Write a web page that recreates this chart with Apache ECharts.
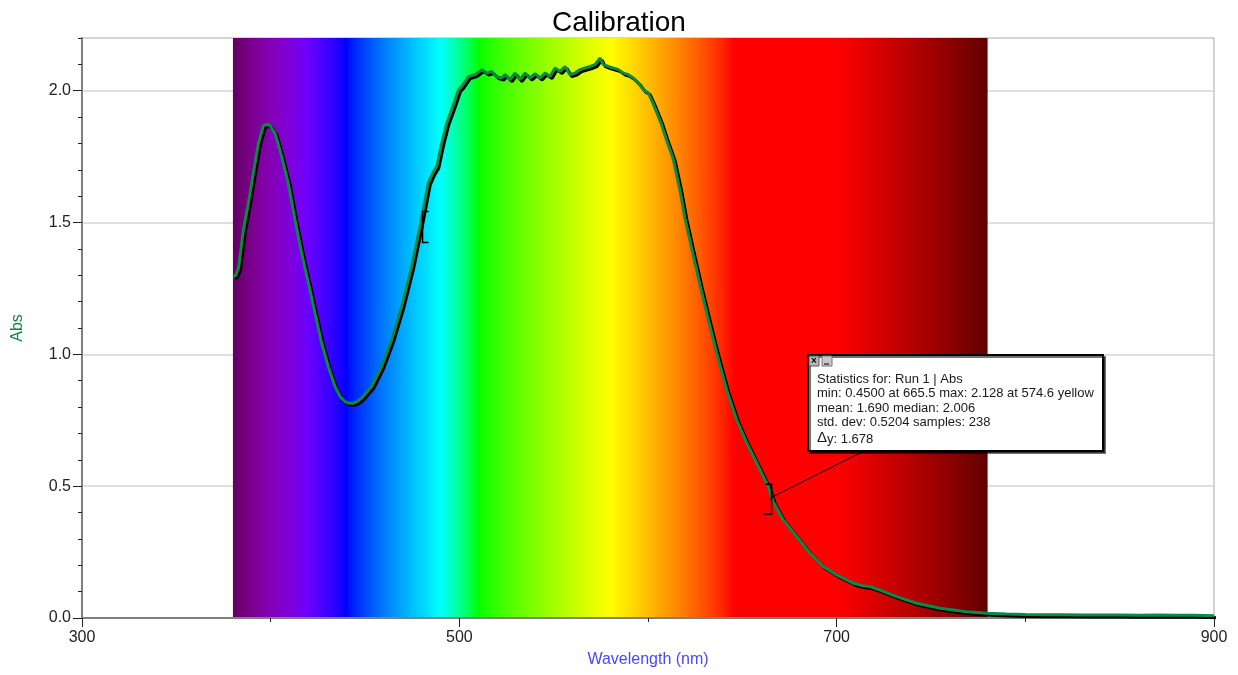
<!DOCTYPE html>
<html>
<head>
<meta charset="utf-8">
<title>Calibration</title>
<script src="https://cdn.jsdelivr.net/npm/echarts@6/dist/echarts.min.js"></script>
<style>
  html, body { margin: 0; padding: 0; background: #fff; }
  #chart { width: 1238px; height: 675px; }
</style>
</head>
<body>
<div id="chart"></div>
<script>
// absorbance spectrum (nm, Abs)
const wavelength = [
  380.2, 381.5, 383.0, 385.5, 388.2, 390.8, 393.5, 396.1, 398.0, 399.6,
  402.3, 405.8, 409.3, 412.9, 416.4, 420.0, 423.5, 427.0, 430.5, 434.1,
  437.0, 439.4, 441.5, 443.8, 446.0, 448.2, 453.5, 458.8, 464.1, 469.4,
  474.7, 479.1, 483.5, 486.0, 488.0, 490.6, 493.3, 497.0, 499.5, 501.2,
  504.8, 508.3, 511.9, 514.5, 517.1, 519.8, 522.4, 524.2, 526.9, 529.5,
  532.1, 534.8, 537.4, 540.1, 542.8, 545.4, 548.1, 550.7, 553.4, 556.0,
  558.6, 561.3, 563.9, 566.6, 569.3, 571.9, 574.6, 576.3, 579.0, 581.6,
  584.3, 586.9, 589.6, 592.2, 594.9, 597.5, 600.2, 602.8, 606.9, 609.5,
  613.4, 617.0, 619.5, 623.2, 627.6, 632.0, 636.4, 641.7, 647.0, 652.3,
  659.4, 663.8, 666.4, 671.7, 678.8, 685.9, 692.9, 700.0, 708.8, 714.0,
  717.7, 723.0, 731.8, 742.4, 754.8, 768.9, 779.5, 790.0, 800.0, 810.0,
  820.0, 830.0, 840.0, 850.0, 860.0, 870.0, 880.0, 890.0, 900.0
];
const absorbance = [
  1.295, 1.300, 1.330, 1.470, 1.574, 1.688, 1.800, 1.868, 1.872, 1.868,
  1.839, 1.751, 1.650, 1.510, 1.384, 1.270, 1.156, 1.043, 0.954, 0.878,
  0.838, 0.821, 0.815, 0.815, 0.822, 0.834, 0.878, 0.954, 1.055, 1.181,
  1.333, 1.485, 1.650, 1.690, 1.713, 1.800, 1.877, 1.950, 2.004, 2.016,
  2.054, 2.061, 2.080, 2.067, 2.073, 2.054, 2.048, 2.061, 2.042, 2.067,
  2.042, 2.067, 2.048, 2.065, 2.048, 2.067, 2.054, 2.086, 2.073, 2.092,
  2.061, 2.067, 2.080, 2.086, 2.092, 2.099, 2.124, 2.099, 2.092, 2.086,
  2.080, 2.067, 2.061, 2.048, 2.029, 2.004, 1.991, 1.950, 1.877, 1.820,
  1.740, 1.620, 1.520, 1.400, 1.262, 1.131, 1.005, 0.865, 0.751, 0.665,
  0.562, 0.498, 0.440, 0.372, 0.309, 0.245, 0.195, 0.163, 0.132, 0.122,
  0.119, 0.106, 0.081, 0.056, 0.037, 0.024, 0.018, 0.015, 0.013, 0.012,
  0.012, 0.011, 0.011, 0.011, 0.010, 0.011, 0.010, 0.010, 0.009
];

// visible band drawn behind the plot
const bandRange = [380, 780];

// selection brackets (start / end of the statistics range)
const selStart = [480.5, 1.485];
const selEnd = [665.5, 0.45];

const statLines = [
  'Statistics for: Run 1 | Abs',
  'min: 0.4500 at 665.5 max: 2.128 at 574.6 yellow',
  'mean: 1.690 median: 2.006',
  'std. dev: 0.5204 samples: 238'
];
const deltaY = '1.678';

const FONT = 'Liberation Sans, Arial, sans-serif';

// wavelength -> rgb, for the spectrum background
function wlColor(w) {
  let r = 0, g = 0, b = 0;
  if (w < 440) { r = -(w - 440) / 60; b = 1; }
  else if (w < 490) { g = (w - 440) / 50; b = 1; }
  else if (w < 510) { g = 1; b = -(w - 510) / 20; }
  else if (w < 580) { r = (w - 510) / 70; g = 1; }
  else if (w < 645) { r = 1; g = -(w - 645) / 65; }
  else { r = 1; }
  let f = 1;
  if (w < 420) f = 0.3 + 0.7 * (w - 380) / 40;
  else if (w > 700) f = 0.3 + 0.7 * (780 - w) / 80;
  const c = v => (v <= 0 ? 0 : Math.round(255 * Math.pow(v * f, 0.8)));
  return 'rgb(' + c(r) + ',' + c(g) + ',' + c(b) + ')';
}

const stops = [];
for (let w = bandRange[0]; w <= bandRange[1]; w += 2) {
  stops.push({ offset: (w - bandRange[0]) / (bandRange[1] - bandRange[0]), color: wlColor(w) });
}

const chart = echarts.init(document.getElementById('chart'));

const option = {
  animation: false,
  title: {
    text: 'Calibration',
    left: 'center',
    top: 4,
    textStyle: { fontFamily: FONT, fontSize: 28, fontWeight: 'normal', color: '#000' }
  },
  grid: {
    left: 82, right: 24, top: 38, bottom: 57,
    show: true,
    borderColor: '#a8a8a8',
    borderWidth: 1
  },
  xAxis: {
    type: 'value',
    min: 300, max: 900, interval: 200,
    z: 1,
    name: 'Wavelength (nm)',
    nameLocation: 'middle',
    nameGap: 34,
    nameTextStyle: { fontFamily: FONT, fontSize: 16, color: '#4848ff' },
    axisLine: { lineStyle: { color: '#808080', width: 2 } },
    axisTick: { length: 9, lineStyle: { color: '#222' } },
    minorTick: { show: true, splitNumber: 2, length: 4, lineStyle: { color: '#222' } },
    axisLabel: { fontFamily: FONT, fontSize: 16, color: '#222', margin: 12 },
    splitLine: { show: true, lineStyle: { color: '#d4d4d4', width: 1 } }
  },
  yAxis: [
    {
      type: 'value',
      min: 0, max: 2.2, interval: 0.5,
      z: 1,
      position: 'left',
      name: 'Abs',
      nameLocation: 'middle',
      nameGap: 56,
      nameTextStyle: { fontFamily: FONT, fontSize: 16, color: '#0b8a45' },
      axisLine: { show: true, lineStyle: { color: '#808080', width: 2 } },
      axisTick: { length: 9, customValues: [0, 0.5, 1, 1.5, 2], lineStyle: { color: '#222' } },
      axisLabel: {
        fontFamily: FONT, fontSize: 16, color: '#222', margin: 11,
        showMaxLabel: false,
        formatter: v => (v > 2.15 ? '' : v.toFixed(1))
      },
      splitLine: { show: true, lineStyle: { color: '#d4d4d4', width: 1.5 } }
    },
    {
      type: 'value',
      min: 0, max: 2.2, interval: 0.1,
      position: 'left',
      z: 1,
      axisLine: { show: false },
      axisTick: { length: 4, lineStyle: { color: '#222' } },
      axisLabel: { show: false },
      splitLine: { show: false }
    }
  ],
  series: [
    {
      name: 'spectrum',
      type: 'line',
      z: 0,
      data: [],
      silent: true,
      markArea: {
        silent: true,
        itemStyle: {
          color: new echarts.graphic.LinearGradient(0, 0, 1, 0, stops)
        },
        data: [[{ xAxis: bandRange[0] }, { xAxis: bandRange[1] }]]
      }
    },
    {
      name: 'Run 1',
      type: 'line',
      z: 3,
      showSymbol: false,
      data: wavelength.map((w, i) => [w, absorbance[i]]),
      lineStyle: {
        color: '#0b8a45',
        width: 3,
        shadowColor: '#000',
        shadowOffsetX: 2,
        shadowOffsetY: 2,
        shadowBlur: 0
      }
    }
  ]
};

chart.setOption(option);

// statistics annotation
const p1 = chart.convertToPixel({ xAxisIndex: 0, yAxisIndex: 0 }, selStart);
const p2 = chart.convertToPixel({ xAxisIndex: 0, yAxisIndex: 0 }, selEnd);
const box = { x: 808, y: 355, w: 295, h: 96 };

const graphics = [
  {
    type: 'polyline', z: 10,
    shape: { points: [[p1[0] + 6, p1[1] - 15], [p1[0], p1[1] - 15], [p1[0], p1[1] + 16], [p1[0] + 6, p1[1] + 16]] },
    style: { stroke: '#000', lineWidth: 1.5, fill: null }
  },
  {
    type: 'polyline', z: 10,
    shape: { points: [[p2[0] - 6, p2[1] - 15], [p2[0], p2[1] - 15], [p2[0], p2[1] + 15], [p2[0] - 8, p2[1] + 15]] },
    style: { stroke: '#000', lineWidth: 1.5, fill: null }
  },
  {
    type: 'line', z: 10,
    shape: { x1: p2[0], y1: p2[1] - 2, x2: box.x + 56, y2: box.y + box.h },
    style: { stroke: '#000', lineWidth: 1 }
  },
  {
    type: 'rect', z: 11,
    shape: { x: box.x, y: box.y, width: box.w, height: box.h },
    style: {
      fill: '#fff', stroke: '#000', lineWidth: 2,
      shadowColor: 'rgba(0,0,0,0.55)', shadowOffsetX: 2, shadowOffsetY: 2, shadowBlur: 0
    }
  },
  {
    type: 'rect', z: 12,
    shape: { x: box.x + 1, y: box.y + 1, width: 10, height: 10 },
    style: { fill: '#b8b8b8', stroke: '#555', lineWidth: 1 }
  },
  {
    type: 'text', z: 13,
    style: { x: box.x + 6, y: box.y + 6, text: '×', fill: '#000', font: 'bold 10px ' + FONT, align: 'center', verticalAlign: 'middle' }
  },
  {
    type: 'rect', z: 12,
    shape: { x: box.x + 14, y: box.y + 1, width: 10, height: 10 },
    style: { fill: '#c8c8c8', stroke: '#777', lineWidth: 1 }
  },
  {
    type: 'line', z: 13,
    shape: { x1: box.x + 16, y1: box.y + 9, x2: box.x + 21, y2: box.y + 9 },
    style: { stroke: '#000', lineWidth: 1 }
  }
];

const lineY = [24, 38, 53, 67];
statLines.forEach((t, i) => {
  graphics.push({
    type: 'text', z: 13,
    style: {
      x: box.x + 9, y: box.y + lineY[i], text: t,
      fill: '#1a1a1a', font: '13px ' + FONT, verticalAlign: 'middle'
    }
  });
});
graphics.push({
  type: 'text', z: 13,
  style: {
    x: box.x + 9, y: box.y + 84,
    text: '{d|Δ}y: ' + deltaY,
    fill: '#1a1a1a', font: '13px ' + FONT, verticalAlign: 'middle',
    rich: { d: { fontSize: 15, fontFamily: FONT, fill: '#1a1a1a', padding: [0, 0, 3, 0] } }
  }
});

chart.setOption({ graphic: graphics });
</script>
</body>
</html>
